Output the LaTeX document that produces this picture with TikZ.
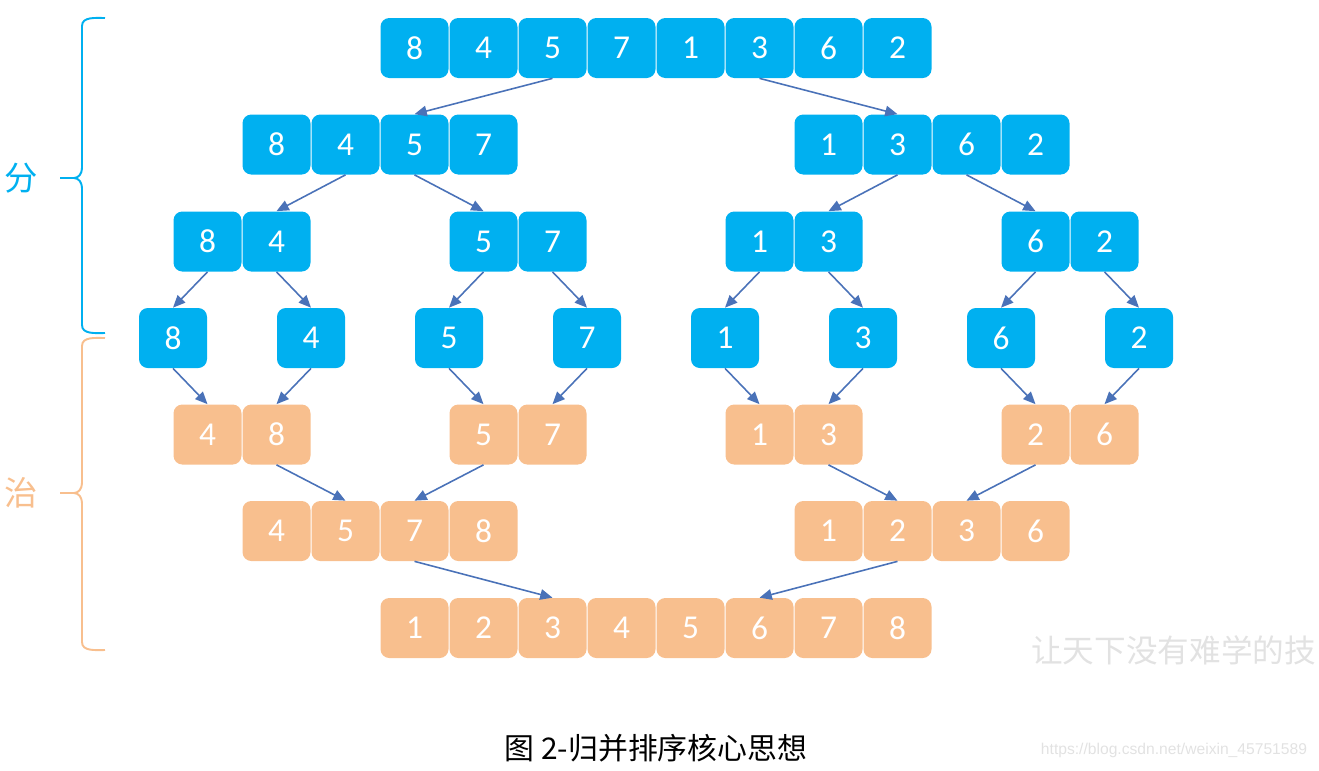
\documentclass[tikz,border=0pt]{standalone}
\usepackage{fontspec}
\setmainfont{Carlito}
\newfontfamily\cjkfont{Noto Sans CJK SC}
\newfontfamily\urlfont{Liberation Sans}
\usetikzlibrary{arrows.meta}
\definecolor{cell-blue}{HTML}{00B0F0}
\definecolor{cell-orange}{HTML}{F8BF8E}
\definecolor{link-blue}{HTML}{4A72B8}
\definecolor{mark-gray}{HTML}{E2E2E2}

\begin{document}
\begin{tikzpicture}[
    cell/.style={rounded corners=5pt, minimum width=1.36cm, minimum height=1.2cm,
                 inner sep=0pt, text=white, font=\fontsize{19}{19}\selectfont},
    blue cell/.style={cell, fill=cell-blue},
    orange cell/.style={cell, fill=cell-orange},
    link/.style={-{Triangle[length=7pt,width=6pt]}, color=link-blue, line width=0.9pt},
    brace line/.style={line width=1.1pt}]
  \useasboundingbox (0,0) rectangle (26.38,-15.4);

  % split rows
  \foreach \k/\d [count=\i] in {3.5/8,4.5/4,5.5/5,6.5/7,7.5/1,8.5/3,9.5/6,10.5/2}
    \node[blue cell] (a\i) at ({3.46+1.38*\k},-0.96) {\d};
  \foreach \k/\d [count=\i] in {1.5/8,2.5/4,3.5/5,4.5/7,9.5/1,10.5/3,11.5/6,12.5/2}
    \node[blue cell] (b\i) at ({3.46+1.38*\k},-2.89) {\d};
  \foreach \k/\d [count=\i] in {0.5/8,1.5/4,4.5/5,5.5/7,8.5/1,9.5/3,12.5/6,13.5/2}
    \node[blue cell] (c\i) at ({3.46+1.38*\k},-4.83) {\d};
  \foreach \k/\d [count=\i] in {0/8,2/4,4/5,6/7,8/1,10/3,12/6,14/2}
    \node[blue cell] (d\i) at ({3.46+1.38*\k},-6.76) {\d};

  % merge rows
  \foreach \k/\d [count=\i] in {0.5/4,1.5/8,4.5/5,5.5/7,8.5/1,9.5/3,12.5/2,13.5/6}
    \node[orange cell] (e\i) at ({3.46+1.38*\k},-8.69) {\d};
  \foreach \k/\d [count=\i] in {1.5/4,2.5/5,3.5/7,4.5/8,9.5/1,10.5/2,11.5/3,12.5/6}
    \node[orange cell] (f\i) at ({3.46+1.38*\k},-10.62) {\d};
  \foreach \k/\d [count=\i] in {3.5/1,4.5/2,5.5/3,6.5/4,7.5/5,8.5/6,9.5/7,10.5/8}
    \node[orange cell] (g\i) at ({3.46+1.38*\k},-12.56) {\d};

  % arrows
  \foreach \s/\t in {a3/b3,a6/b6,b2/c2,b3/c3,b6/c6,b7/c7,
                     c1/d1,c2/d2,c3/d3,c4/d4,c5/d5,c6/d6,c7/d7,c8/d8,
                     d1/e1,d2/e2,d3/e3,d4/e4,d5/e5,d6/e6,d7/e7,d8/e8,
                     e2/f2,e3/f3,e6/f6,e7/f7,f3/g3,f6/g6}
    \draw[link] (\s.south) -- (\t.north);

  % braces
  \draw[brace line, color=cell-blue] (2.1,-0.36) to[out=180,in=90] (1.64,-0.52)
    -- (1.64,-3.36) to[out=-90,in=0] (1.48,-3.56) -- (1.2,-3.56);
  \draw[brace line, color=cell-blue] (1.48,-3.56) to[out=0,in=90] (1.64,-3.76)
    -- (1.64,-6.5) to[out=-90,in=180] (2.1,-6.66);
  \draw[brace line, color=cell-orange] (2.1,-6.76) to[out=180,in=90] (1.64,-6.92)
    -- (1.64,-9.66) to[out=-90,in=0] (1.48,-9.86) -- (1.2,-9.86);
  \draw[brace line, color=cell-orange] (1.48,-9.86) to[out=0,in=90] (1.64,-10.06)
    -- (1.64,-12.84) to[out=-90,in=180] (2.1,-13.0);
  \node[text=cell-blue, font=\cjkfont\fontsize{19}{19}\selectfont] (split) at (0.42,-3.56) {分};
  \node[text=cell-orange, font=\cjkfont\fontsize{19}{19}\selectfont] (merge) at (0.42,-9.86) {治};

  \node[font=\cjkfont\fontsize{17}{17}\selectfont] (caption) at (13.12,-14.96) {图 2-归并排序核心思想};
  \node[text=mark-gray, font=\cjkfont\fontsize{18}{18}\selectfont, anchor=west] (motto) at (20.5,-13.0)
    {让天下没有难学的技};
  \node[text=mark-gray, font=\urlfont\fontsize{8.9}{9}\selectfont] (url) at (23.48,-15.0)
    {https://blog.csdn.net/weixin\_45751589};
\end{tikzpicture}
\end{document}
